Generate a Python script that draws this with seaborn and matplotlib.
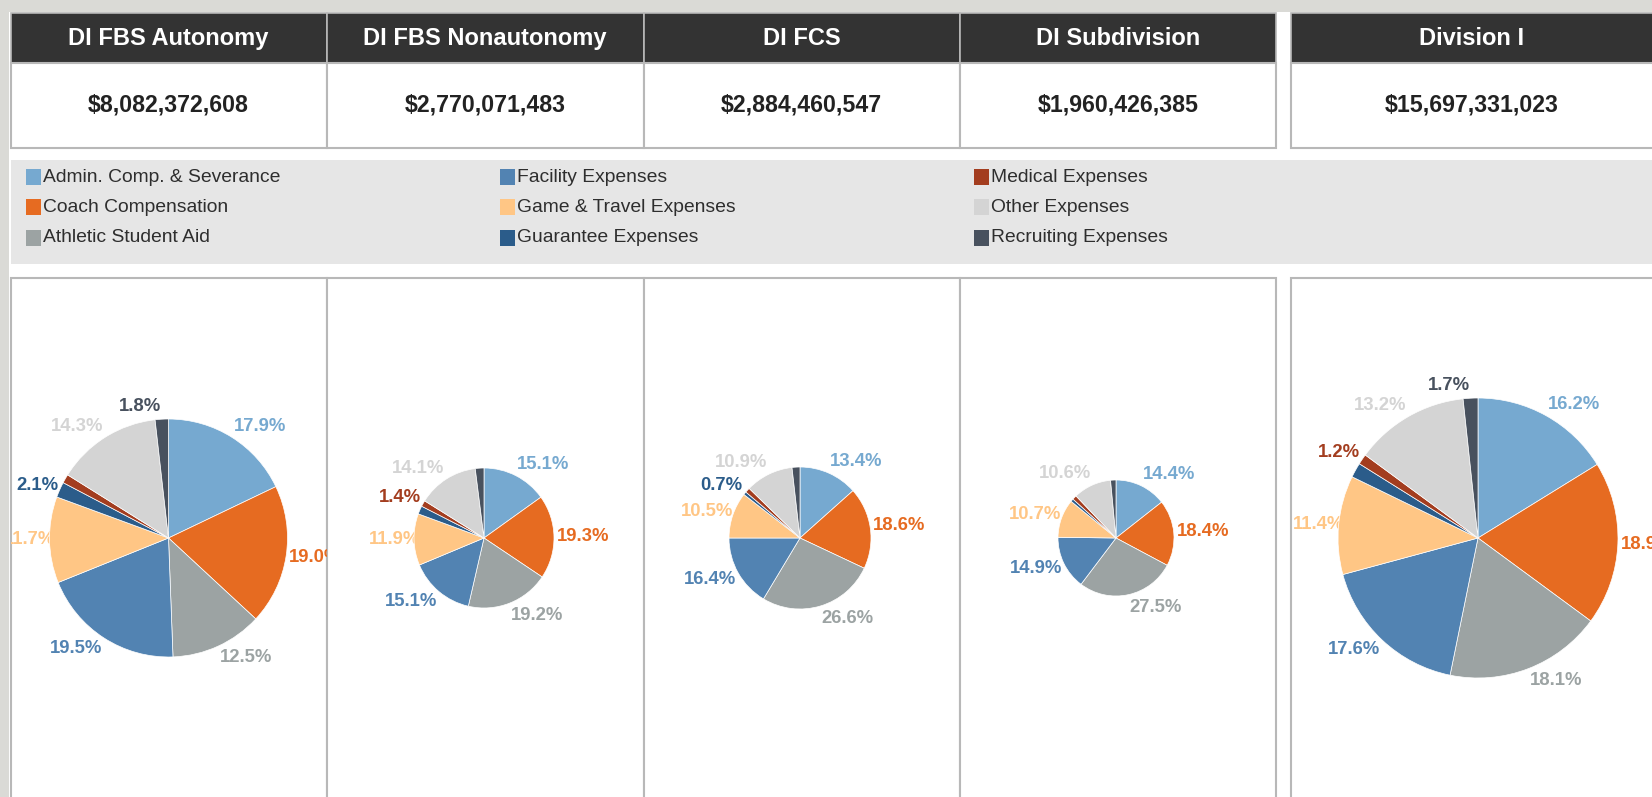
import numpy as np
import seaborn as sns
import matplotlib
matplotlib.use("Agg")
import matplotlib.pyplot as plt
from matplotlib.patches import Rectangle

# ---- data ----
divisions = ["DI FBS Autonomy", "DI FBS Nonautonomy", "DI FCS", "DI Subdivision", "Division I"]
totals = [8082372608, 2770071483, 2884460547, 1960426385, 15697331023]

categories = ["Admin. Comp. & Severance", "Coach Compensation", "Athletic Student Aid",
              "Facility Expenses", "Game & Travel Expenses", "Guarantee Expenses",
              "Medical Expenses", "Other Expenses", "Recruiting Expenses"]

fbs_autonomy = [17.9, 19.0, 12.5, 19.5, 11.7, 2.1, 1.2, 14.3, 1.8]
fbs_nonautonomy = [15.1, 19.3, 19.2, 15.1, 11.9, 1.9, 1.4, 14.1, 2.0]
fcs = [13.4, 18.6, 26.6, 16.4, 10.5, 0.7, 1.1, 10.9, 1.8]
subdivision = [14.4, 18.4, 27.5, 14.9, 10.7, 0.8, 1.2, 10.6, 1.5]
division_one = [16.2, 18.9, 18.1, 17.6, 11.4, 1.7, 1.2, 13.2, 1.7]
shares = [fbs_autonomy, fbs_nonautonomy, fcs, subdivision, division_one]

# slices the original leaves unlabeled
hidden = [["Medical Expenses"],
          ["Guarantee Expenses", "Recruiting Expenses"],
          ["Medical Expenses", "Recruiting Expenses"],
          ["Guarantee Expenses", "Medical Expenses", "Recruiting Expenses"],
          ["Guarantee Expenses"]]

palette = sns.color_palette(["#76A9D0", "#E66B21", "#9CA3A3", "#5283B2", "#FFC685",
                             "#2B5C8A", "#A33D1F", "#D4D4D4", "#48515E"])

# ---- layout (pixels) ----
W, H = 1652, 797
box_x = [10.5, 326.5, 643.5, 960, 1291]
box_w = [316, 317, 316.5, 316, 380]
pie_cx = [168.5, 484, 800, 1116, 1478]
pie_cy = 538
pie_r = [119, 70, 71, 58, 140]
panel_top = 278

sns.set_theme(style="white")
plt.rcParams["font.family"] = ["Liberation Sans", "DejaVu Sans"]

fig = plt.figure(figsize=(W / 100, H / 100), dpi=100)
fig.patch.set_facecolor("white")

bg = fig.add_axes([0, 0, 1, 1])
bg.set_xlim(0, W)
bg.set_ylim(H, 0)
bg.axis("off")

# grey frame strips
bg.add_patch(Rectangle((0, 0), W, 12, fc="#DADAD6", ec="none"))
bg.add_patch(Rectangle((0, 0), 8.5, H, fc="#DADAD6", ec="none"))

border = "#B8B8B8"
for i in range(len(divisions)):
    x, w = box_x[i], box_w[i]
    bg.add_patch(Rectangle((x, 13), w, 50, fc="#333333", ec=border, lw=1.2))
    bg.add_patch(Rectangle((x, 63), w, 84.5, fc="white", ec=border, lw=1.5))
    tx = x + w / 2 if i < 4 else pie_cx[i] - 6
    bg.text(tx, 38, divisions[i], color="white", fontsize=17, fontweight="bold",
            ha="center", va="center")
    bg.text(tx, 105, f"${totals[i]:,}", color="#222222", fontsize=16.7, fontweight="bold",
            ha="center", va="center")
    bg.add_patch(Rectangle((x, panel_top), w, 600, fc="white", ec=border, lw=1.5))

# legend band
bg.add_patch(Rectangle((10.5, 160), W, 103.5, fc="#E6E6E6", ec="none"))
leg_x = [25.5, 499.5, 973.5]
leg_y = [177, 207, 237.5]
for k, cat in enumerate(categories):
    cx, ry = leg_x[k // 3], leg_y[k % 3]
    bg.add_patch(Rectangle((cx, ry - 8), 15.5, 16, fc=palette[k], ec="none"))
    bg.text(cx + 17.5, ry, cat, fontsize=13.9, color="#2E2E2E", ha="left", va="center")

# ---- pies ----
for i in range(len(divisions)):
    x, w = box_x[i], box_w[i]
    ax = fig.add_axes([x / W, 0, w / W, (H - panel_top) / H])
    r = pie_r[i]
    wedges, _ = ax.pie(shares[i], colors=palette, startangle=90, counterclock=False,
                       radius=r, wedgeprops=dict(linewidth=0.5, edgecolor="white", zorder=3))
    ax.set_aspect("auto")
    ax.set_xlim(x - pie_cx[i], x + w - pie_cx[i])
    ax.set_ylim(-(H - pie_cy), pie_cy - panel_top)
    ax.set_axis_off()
    for k, wdg in enumerate(wedges):
        if categories[k] in hidden[i]:
            continue
        ang = np.deg2rad((wdg.theta1 + wdg.theta2) / 2)
        c, s = np.cos(ang), np.sin(ang)
        # left-side labels tuck slightly under the pie, as in the original
        d = r + 3 - 9 * max(0.0, -c) ** 20
        ha = "left" if c > 0.02 else ("right" if c < -0.02 else "center")
        ax.text(d * c, d * s + 10 * s, f"{shares[i][k]:.1f}%", color=palette[k],
                fontsize=13.3, fontweight="bold", ha=ha, va="center", clip_on=True,
                zorder=1)

fig.savefig("out.png", dpi=100)
